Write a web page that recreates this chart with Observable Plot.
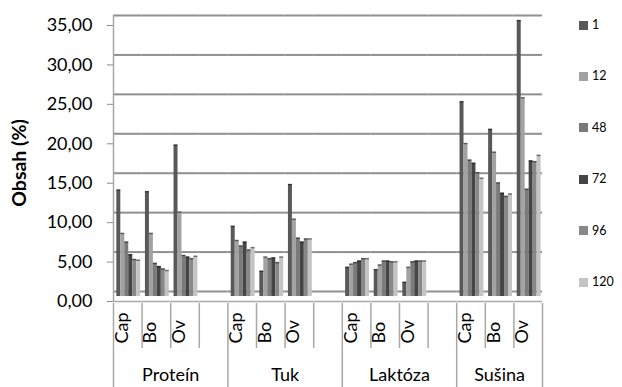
<!DOCTYPE html>
<html><head><meta charset="utf-8">
<script src="https://cdn.jsdelivr.net/npm/d3@7"></script>
<script src="https://cdn.jsdelivr.net/npm/@observablehq/plot@0.6"></script>
<style>
body{margin:0;background:#fff;}
#wrap{position:relative;width:622px;height:387px;font-family:Lato, sans-serif;color:#000;}
.ytitle{position:absolute;left:18px;top:163px;transform:translate(-50%,-50%) rotate(-90deg);font-weight:bold;font-size:19.5px;white-space:nowrap;}
.li{position:absolute;left:579px;display:flex;align-items:center;white-space:nowrap;font-size:12.5px;line-height:16px;}
.sw{width:9px;height:9px;margin-right:4px;}
</style></head><body><div id="wrap"></div>
<script>
// ---- data ----
const groups = ["Proteín", "Tuk", "Laktóza", "Sušina"];
const subs = ["Cap", "Bo", "Ov"];
const series = ["1", "12", "48", "72", "96", "120"];
const seriesColors = ["#585858", "#a2a2a2", "#7a7a7a", "#454545", "#888888", "#c4c4c4"];
const yTicks = [0, 5, 10, 15, 20, 25, 30, 35];
// rows: Cap, Bo, Ov ; columns: series 1,12,48,72,96,120
const protein = [[13.5, 8.0, 6.9, 5.3, 4.7, 4.6], [13.3, 8.0, 4.2, 3.8, 3.5, 3.3], [19.2, 10.7, 5.2, 5.0, 4.8, 5.1]];
const tuk     = [[8.9, 7.1, 6.4, 6.9, 5.9, 6.2], [3.2, 5.0, 4.8, 4.9, 4.3, 5.0], [14.2, 9.8, 7.4, 6.9, 7.3, 7.3]];
const laktoza = [[3.7, 4.1, 4.3, 4.5, 4.8, 4.8], [3.4, 4.0, 4.5, 4.5, 4.4, 4.4], [1.8, 3.7, 4.4, 4.5, 4.5, 4.5]];
const susina  = [[24.7, 19.4, 17.3, 16.9, 15.7, 15.0], [21.2, 18.3, 14.4, 13.1, 12.7, 13.0], [35.0, 25.2, 13.6, 17.2, 17.1, 17.9]];
const groupValues = [protein, tuk, laktoza, susina];

// ---- build table ----
const slots = [];
groups.forEach((g, gi) => {
  subs.forEach(s => slots.push(`${g}|${s}`));
  if (gi < groups.length - 1) slots.push(`${g}|`);
});
const rows = [];
groups.forEach((g, gi) => subs.forEach((s, si) => series.forEach((se, k) => {
  rows.push({slot: `${g}|${s}`, group: g, sub: s, series: se, value: groupValues[gi][si][k]});
})));

// ---- layout ----
const W = 622, H = 387, mL = 113, mR = 80, mT = 25, mB = 86;
const plotH = H - mT - mB;
const half = (W - mL - mR) / slots.length / 2;
const sepColor = "#a8a8a8";
const fmt = d3.formatLocale({decimal: ",", thousands: "\u00a0", grouping: [3], currency: ["", ""]}).format(".2f");

const subSlots = slots.filter(s => s.split("|")[1] !== "");
const shortSeps = slots.filter(s => s.split("|")[1] !== "Cap");
const longSeps = slots.filter(s => s.split("|")[1] === "Cap");
const sep = {x: null, stroke: sepColor, strokeWidth: 1.5};

const chart = Plot.plot({
  width: W, height: H, marginLeft: mL, marginRight: mR, marginTop: mT, marginBottom: mB,
  style: {fontFamily: "Lato, sans-serif", fontSize: "18px", background: "transparent", color: "black", overflow: "visible"},
  fx: {domain: slots, padding: 0, round: false, axis: null},
  x: {domain: series, paddingInner: 0, paddingOuter: 0.6, align: 0.7, round: false, axis: null},
  y: {domain: [0, 35]},
  color: {domain: series, range: seriesColors},
  marks: [
    Plot.ruleY(yTicks, {dy: -10, stroke: "#8f8f8f", strokeWidth: 2}),
    Plot.ruleY([0], {stroke: sepColor, strokeWidth: 1.5}),
    Plot.barY(rows, {fx: "slot", x: "series", y: "value", fill: "series", dy: -5}),
    Plot.tickY(rows, {fx: "slot", x: "series", y: "value", stroke: "black", strokeOpacity: 0.45, strokeWidth: 1.5, dy: -5}),
    Plot.axisY({ticks: yTicks, tickFormat: fmt, tickSize: 6, tickPadding: 15, color: "black", stroke: "#8c8c8c", label: null, fontSize: 18}),
    Plot.ruleX(["Proteín|Cap"], {...sep, fx: d => d, dx: -half, insetTop: -10}),
    Plot.ruleX(shortSeps, {...sep, fx: d => d, dx: -half, insetTop: plotH + 2, insetBottom: -47}),
    Plot.ruleX(longSeps, {...sep, fx: d => d, dx: -half, insetTop: plotH + 2, insetBottom: -86}),
    Plot.ruleX(["Sušina|Ov"], {...sep, fx: d => d, dx: half, insetTop: plotH + 2, insetBottom: -86}),
    Plot.text(subSlots, {fx: d => d, text: d => d.split("|")[1], frameAnchor: "bottom", rotate: -90, textAnchor: "start", dy: 42, fontSize: 18}),
    Plot.text(groups.slice(0, 3), {fx: g => `${g}|Bo`, text: d => d, frameAnchor: "bottom", dx: half, dy: 79, fontSize: 18}),
    Plot.text(groups.slice(3), {fx: g => `${g}|Bo`, text: d => d, frameAnchor: "bottom", dy: 79, fontSize: 18})
  ]
});

const wrap = document.getElementById("wrap");
wrap.appendChild(chart);

const title = document.createElement("div");
title.className = "ytitle";
title.textContent = "Obsah (%)";
wrap.appendChild(title);

series.forEach((s, i) => {
  const item = document.createElement("div");
  item.className = "li";
  item.style.top = (25 + i * 51.4 - 8) + "px";
  const sw = document.createElement("div");
  sw.className = "sw";
  sw.style.background = seriesColors[i];
  const t = document.createElement("span");
  t.textContent = s;
  item.appendChild(sw);
  item.appendChild(t);
  wrap.appendChild(item);
});
</script></body></html>
